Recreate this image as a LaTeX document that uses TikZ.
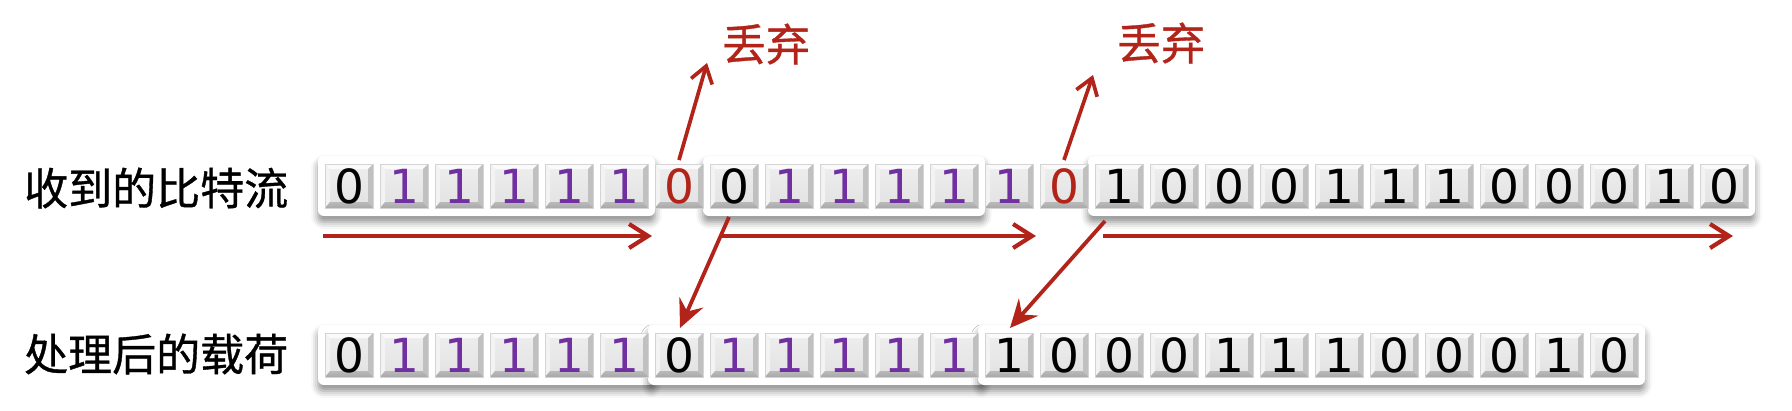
\documentclass[tikz,border=0pt]{standalone}
\usepackage{fontspec}
\newfontfamily\cjkfont[FakeBold=0.8]{Noto Sans CJK SC}
\newfontfamily\digitfont{DejaVu Sans}
\usetikzlibrary{arrows.meta,shadows.blur,calc}
\definecolor{arrred}{RGB}{178,36,26}
\definecolor{purp}{RGB}{112,48,160}
\definecolor{blk}{RGB}{0,0,0}
\definecolor{facetop}{RGB}{238,238,238}
\definecolor{facebot}{RGB}{226,226,226}
\definecolor{bevtopc}{RGB}{250,250,250}
\definecolor{bevleftc}{RGB}{243,243,243}
\definecolor{bevrightc}{RGB}{192,192,192}
\definecolor{bevbotc}{RGB}{168,168,168}
\definecolor{cellbord}{RGB}{212,212,212}

\newcommand\keycell[5]{% name, left x, top y, digit, colour
  \begin{scope}[shift={(#2,#3)}]
    \shade[top color=facetop, bottom color=facebot] (0,0) rectangle (48,44);
    \fill[bevtopc] (0,0) -- (48,0) -- (43,5) -- (5,5) -- cycle;
    \fill[bevleftc] (0,0) -- (5,5) -- (5,38) -- (0,44) -- cycle;
    \fill[bevrightc] (48,0) -- (48,44) -- (43,38) -- (43,5) -- cycle;
    \shade[top color=bevbotc!80!white, bottom color=bevbotc] (0,44) -- (5,38) -- (43,38) -- (48,44) -- cycle;
    \draw[cellbord, line width=0.8pt] (0,0) rectangle (48,44);
  \end{scope}
  \node[digit, text=#5] (#1) at (#2+24,#3+22) {#4};
}

\begin{document}
\begin{tikzpicture}[x=1pt,y=-1pt,
  grp/.style={fill=white, rounded corners=6pt,
    blur shadow={shadow xshift=0pt, shadow yshift=-6pt, shadow blur radius=7pt, shadow opacity=45}},
  digit/.style={inner sep=0pt, font=\digitfont\fontsize{47}{50}\selectfont},
  rowlabel/.style={inner sep=0pt, anchor=west, font=\cjkfont\fontsize{44}{50}\selectfont},
  droplabel/.style={inner sep=0pt, text=arrred, font=\cjkfont\fontsize{44}{50}\selectfont},
  flow/.style={draw=arrred, line width=4.2pt, -{Straight Barb[length=19pt,width=24pt]}},
  dropline/.style={draw=arrred, line width=3.7pt, -{Straight Barb[length=16pt,width=22pt]}},
  moveline/.style={draw=arrred, line width=3.8pt, -{Stealth[length=28pt,width=26pt,inset=10pt]}}
]
\useasboundingbox (0,0) rectangle (1792,410);

% row labels
\node[rowlabel] (lbltop) at (24,188) {收到的比特流};
\node[rowlabel] (lblbot) at (24,354) {处理后的载荷};

% group boxes, top row
\path[grp] (318,156) rectangle (655,216);
\path[grp] (703,156) rectangle (985,216);
\path[grp] (1088,156) rectangle (1755,216);
% group boxes, bottom row
\path[grp] (318,325) rectangle (655,385);
\path[grp] (648,325) rectangle (985,385);
\path[grp] (978,325) rectangle (1645,385);

% top row cells
\foreach \d/\c [count=\j from 0] in {0/blk,1/purp,1/purp,1/purp,1/purp,1/purp,0/arrred,
  0/blk,1/purp,1/purp,1/purp,1/purp,1/purp,0/arrred,
  1/blk,0/blk,0/blk,0/blk,1/blk,1/blk,1/blk,0/blk,0/blk,0/blk,1/blk,0/blk}{
  \pgfmathsetmacro\xx{325+55*\j}
  \keycell{t\j}{\xx}{164}{\d}{\c}
}
% bottom row cells
\foreach \d/\c [count=\j from 0] in {0/blk,1/purp,1/purp,1/purp,1/purp,1/purp,
  0/blk,1/purp,1/purp,1/purp,1/purp,1/purp,
  1/blk,0/blk,0/blk,0/blk,1/blk,1/blk,1/blk,0/blk,0/blk,0/blk,1/blk,0/blk}{
  \pgfmathsetmacro\xx{325+55*\j}
  \keycell{b\j}{\xx}{333}{\d}{\c}
}

% discard labels
\node[droplabel] (drop1) at (766,44) {丢弃};
\node[droplabel] (drop2) at (1161,43) {丢弃};

% flow arrows under the received stream
\draw[flow] ($(t0.center)+(-26,50)$) -- ($(t6.center)+(-27,50)$);
\draw[flow] ($(t7.center)+(-12,50)$) -- ($(t13.center)+(-28,50)$);
\draw[flow] ($(t14.center)+(-16,50)$) -- ($(t25.center)+(9,50)$);

% discarded bits
\draw[dropline] ($(t6.center)+(0,-26)$) -- ($(drop1.center)+(-59,19)$);
\draw[dropline] ($(t13.center)+(0,-26)$) -- ($(drop2.center)+(-68,32)$);

% moved bits
\draw[moveline] ($(t7.center)+(-5,31)$) -- ($(b6.center)+(1,-27)$);
\draw[moveline] ($(t14.center)+(-14,35)$) -- ($(b12.center)+(1,-27)$);
\end{tikzpicture}
\end{document}
